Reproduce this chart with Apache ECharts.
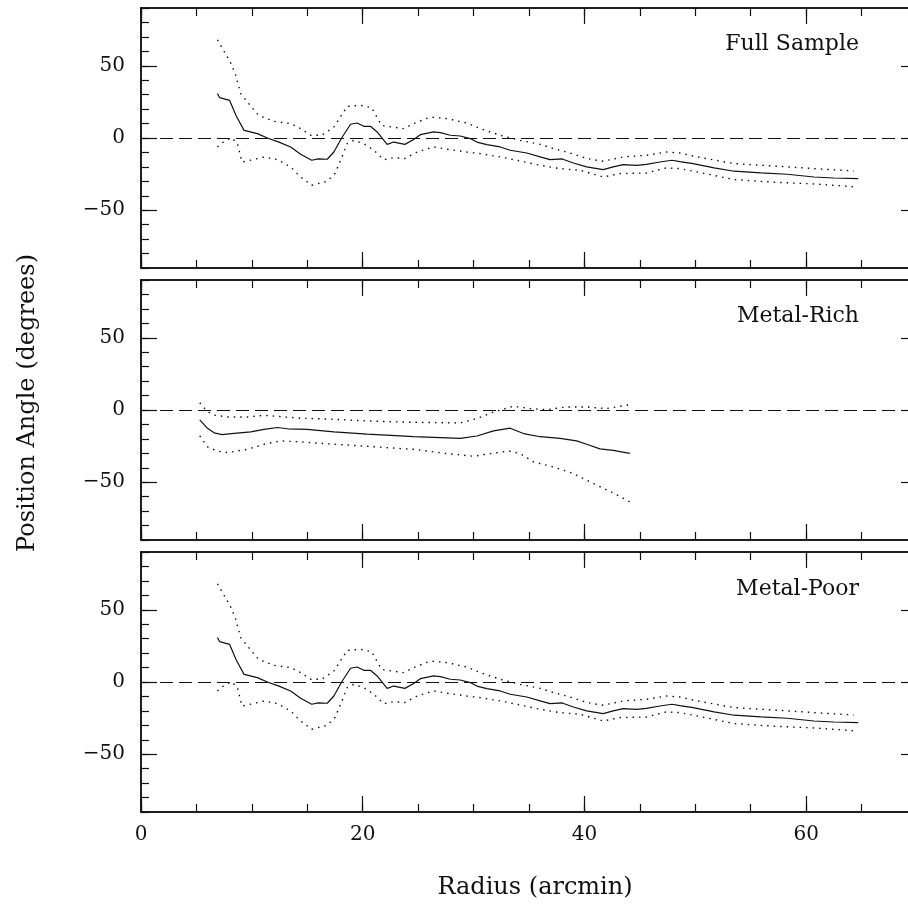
<!DOCTYPE html>
<html>
<head>
<meta charset="utf-8">
<script src="https://cdn.jsdelivr.net/npm/echarts@6/dist/echarts.min.js"></script>
<style>
html,body{margin:0;padding:0;background:#fff;overflow:hidden;}
#chart{width:908px;height:911px;}
</style>
</head>
<body>
<div id="chart"></div>
<script>
// ---- data: [radius (arcmin), position angle (deg)] ----
const panelTitles = ["Full Sample", "Metal-Rich", "Metal-Poor"];
const xTickLabels = [0, 20, 40, 60];
const yTickLabels = [-50, 0, 50];

const fullPA = [[6.9,30.7],[7.1,27.9],[8.0,26],[8.6,15],[9.3,5.3],[10.5,3],[11.4,0],[12.5,-3],[13.5,-6.2],[14.4,-11.3],[15.4,-15.4],[16.0,-14.5],[16.8,-14.7],[17.4,-9.7],[18.1,0],[18.9,9.5],[19.5,10.4],[20.1,8.1],[20.7,8.1],[21.3,4.2],[22.2,-4.4],[22.8,-2.8],[23.8,-4.4],[24.6,-1.1],[25.2,2.3],[26.4,4.2],[27.0,3.7],[27.9,1.9],[28.8,1.4],[29.7,-0.4],[30.3,-2.8],[31.2,-4.6],[32.4,-6.2],[33.3,-8.5],[34.8,-10.4],[36.0,-13.1],[36.9,-15],[38.0,-14.5],[39.0,-17.3],[40.2,-20],[41.7,-21.9],[42.6,-20],[43.5,-18.4],[44.7,-18.9],[45.6,-18.2],[46.8,-16.6],[47.9,-15.4],[48.6,-16.3],[49.8,-17.7],[51.7,-20.7],[53.5,-23],[55.9,-24.2],[58.3,-25.1],[60.7,-27],[62.5,-27.7],[64.7,-28.1]];
const fullHi = [[6.9,68],[7.45,60.6],[8.05,52.6],[8.5,44.5],[9.0,30.7],[9.6,24.9],[10.6,15.7],[12.0,11.5],[13.5,10],[14.4,6.5],[15.3,1.9],[16.3,1.9],[17.4,7.6],[18.6,21.9],[19.8,22.6],[20.8,21],[21.7,8.8],[22.2,8.1],[23.7,6.5],[24.6,10],[26.1,14.5],[27.6,13.4],[29.4,10.4],[30.6,6.5],[32.4,1.9],[34.2,-1.6],[36.0,-4.4],[37.2,-7.3],[38.7,-10.4],[40.2,-14.2],[41.7,-16.1],[43.5,-13.1],[45.6,-12],[47.4,-9.7],[48.6,-10.4],[50.5,-13.6],[53.5,-17.7],[57.1,-19.4],[60.7,-21.2],[64.3,-22.8]];
const fullLo = [[6.9,-6.2],[7.6,-1.6],[8.2,0],[8.7,-3.9],[9.1,-16.6],[9.6,-15.9],[11.1,-13.1],[12.3,-15],[13.5,-20],[14.4,-27],[15.4,-32.7],[16.8,-29.9],[17.5,-24.6],[18.0,-15.4],[18.6,-3.9],[19.2,-1.6],[20.1,-3.9],[21.0,-8.5],[21.9,-15],[22.8,-13.6],[23.8,-14.2],[24.9,-9.7],[26.4,-6.2],[27.6,-7.8],[29.4,-9.7],[30.6,-10.8],[32.4,-13.1],[34.2,-15.9],[36.0,-18.9],[37.8,-21.2],[39.6,-22.3],[41.7,-27],[43.2,-24.6],[45.6,-24.2],[47.4,-20.7],[48.6,-21.2],[50.5,-24],[53.5,-28.8],[57.1,-30.6],[60.7,-31.8],[64.6,-33.9]];

const richPA = [[5.3,-6.9],[6.0,-12.7],[6.6,-15.8],[7.3,-17.1],[8.4,-16.2],[9.9,-15.1],[11.1,-13.4],[12.3,-12.1],[13.2,-13],[15.0,-13.4],[17.4,-15.1],[20.4,-16.7],[23.4,-17.9],[24.6,-18.5],[28.8,-19.7],[30.3,-18],[31.8,-14.5],[33.3,-12.6],[34.5,-16.3],[36.0,-18.5],[37.8,-19.7],[39.3,-21.4],[40.2,-23.7],[41.4,-26.9],[42.6,-27.9],[44.1,-30]];
const richHi = [[5.3,5],[6.0,-1.2],[6.7,-3.7],[7.8,-4.8],[9.6,-4.8],[11.1,-3.7],[12.3,-4.4],[14.4,-5.7],[17.4,-6.4],[20.4,-7.6],[23.4,-8.3],[24.6,-8.5],[28.8,-9],[30.3,-5.9],[31.8,-1.4],[33.6,2.6],[35.1,1],[36.6,0.2],[38.4,2.1],[40.2,2.1],[42.0,1],[44.1,3.7]];
const richLo = [[5.3,-17.9],[6.0,-25.5],[6.9,-28.5],[7.8,-29.5],[9.6,-27.2],[11.1,-23.7],[12.6,-21.4],[14.4,-22.1],[17.4,-23.7],[20.4,-25.1],[23.4,-26.7],[24.6,-27.2],[27.6,-30.2],[30.0,-32],[31.5,-30.2],[33.2,-28.4],[34.2,-30.2],[35.4,-35.9],[37.2,-39.4],[39.0,-44],[40.8,-50.9],[42.6,-57.4],[44.1,-63.6]];

const poorPA = [[6.9,30.7],[7.1,27.9],[8.0,26],[8.6,15],[9.3,5.3],[10.5,3],[11.4,0],[12.5,-3],[13.5,-6.2],[14.4,-11.3],[15.4,-15.4],[16.0,-14.5],[16.8,-14.7],[17.4,-9.7],[18.1,0],[18.9,9.5],[19.5,10.4],[20.1,8.1],[20.7,8.1],[21.3,4.2],[22.2,-4.4],[22.8,-2.8],[23.8,-4.4],[24.6,-1.1],[25.2,2.3],[26.4,4.2],[27.0,3.7],[27.9,1.9],[28.8,1.4],[29.7,-0.4],[30.3,-2.8],[31.2,-4.6],[32.4,-6.2],[33.3,-8.5],[34.8,-10.4],[36.0,-13.1],[36.9,-15],[38.0,-14.5],[39.0,-17.3],[40.2,-20],[41.7,-21.9],[42.6,-20],[43.5,-18.4],[44.7,-18.9],[45.6,-18.2],[46.8,-16.6],[47.9,-15.4],[48.6,-16.3],[49.8,-17.7],[51.7,-20.7],[53.5,-23],[55.9,-24.2],[58.3,-25.1],[60.7,-27],[62.5,-27.7],[64.7,-28.1]];
const poorHi = [[6.9,68],[7.45,60.6],[8.05,52.6],[8.5,44.5],[9.0,30.7],[9.6,24.9],[10.6,15.7],[12.0,11.5],[13.5,10],[14.4,6.5],[15.3,1.9],[16.3,1.9],[17.4,7.6],[18.6,21.9],[19.8,22.6],[20.8,21],[21.7,8.8],[22.2,8.1],[23.7,6.5],[24.6,10],[26.1,14.5],[27.6,13.4],[29.4,10.4],[30.6,6.5],[32.4,1.9],[34.2,-1.6],[36.0,-4.4],[37.2,-7.3],[38.7,-10.4],[40.2,-14.2],[41.7,-16.1],[43.5,-13.1],[45.6,-12],[47.4,-9.7],[48.6,-10.4],[50.5,-13.6],[53.5,-17.7],[57.1,-19.4],[60.7,-21.2],[64.3,-22.8]];
const poorLo = [[6.9,-6.2],[7.6,-1.6],[8.2,0],[8.7,-3.9],[9.1,-16.6],[9.6,-15.9],[11.1,-13.1],[12.3,-15],[13.5,-20],[14.4,-27],[15.4,-32.7],[16.8,-29.9],[17.5,-24.6],[18.0,-15.4],[18.6,-3.9],[19.2,-1.6],[20.1,-3.9],[21.0,-8.5],[21.9,-15],[22.8,-13.6],[23.8,-14.2],[24.9,-9.7],[26.4,-6.2],[27.6,-7.8],[29.4,-9.7],[30.6,-10.8],[32.4,-13.1],[34.2,-15.9],[36.0,-18.9],[37.8,-21.2],[39.6,-22.3],[41.7,-27],[43.2,-24.6],[45.6,-24.2],[47.4,-20.7],[48.6,-21.2],[50.5,-24],[53.5,-28.8],[57.1,-30.6],[60.7,-31.8],[64.6,-33.9]];

const panels = [
  {pa: fullPA, hi: fullHi, lo: fullLo},
  {pa: richPA, hi: richHi, lo: richLo},
  {pa: poorPA, hi: poorHi, lo: poorLo}
];

// ---- layout ----
const FONT = '"DejaVu Serif", "Liberation Serif", serif';
const INK = '#111';
const gridTops = [8, 280, 552];
const gridH = 260;
const gridLeft = 141;
const gridW = 776;

const grids = [], xAxes = [], yAxes = [], series = [];
const frameLine = {show: true, onZero: false, lineStyle: {color: INK, width: 1.5}};
const tickStyle = {color: INK, width: 1.2};

gridTops.forEach((top, i) => {
  grids.push({left: gridLeft, width: gridW, top: top, height: gridH, containLabel: false, outerBoundsMode: 'none'});
  const isBottom = i === gridTops.length - 1;
  const xBase = {type: 'value', gridIndex: i, min: 0, max: 70, splitLine: {show: false}, axisLine: frameLine};
  xAxes.push(Object.assign({}, xBase, {
    position: 'bottom', interval: 5,
    axisTick: {show: true, inside: true, length: 8, lineStyle: tickStyle},
    axisLabel: {show: isBottom, margin: 13, fontFamily: FONT, fontSize: 20, color: INK,
      formatter: v => (xTickLabels.indexOf(v) >= 0 ? String(v) : '')}
  }));
  xAxes.push(Object.assign({}, xBase, {
    position: 'bottom', interval: 20,
    axisTick: {show: true, inside: true, length: 16, lineStyle: tickStyle},
    axisLabel: {show: false}
  }));
  xAxes.push(Object.assign({}, xBase, {
    position: 'top', interval: 5,
    axisTick: {show: true, inside: true, length: 8, lineStyle: tickStyle},
    axisLabel: {show: false}
  }));
  xAxes.push(Object.assign({}, xBase, {
    position: 'top', interval: 20,
    axisTick: {show: true, inside: true, length: 16, lineStyle: tickStyle},
    axisLabel: {show: false}
  }));

  const yBase = {type: 'value', gridIndex: i, min: -90, max: 90, interval: 10, splitLine: {show: false}, axisLine: frameLine};
  yAxes.push(Object.assign({}, yBase, {
    position: 'left',
    axisTick: {show: true, inside: true, length: 8, lineStyle: tickStyle},
    axisLabel: {show: false}
  }));
  yAxes.push(Object.assign({}, yBase, {
    position: 'left',
    axisTick: {show: true, inside: true, length: 16, customValues: yTickLabels, lineStyle: tickStyle},
    axisLabel: {show: true, customValues: yTickLabels, margin: 16, fontFamily: FONT, fontSize: 20, color: INK,
      formatter: v => String(v).replace('-', '\u2212')}
  }));
  yAxes.push(Object.assign({}, yBase, {
    position: 'right',
    axisTick: {show: true, inside: true, length: 8, lineStyle: tickStyle},
    axisLabel: {show: false}
  }));
  yAxes.push(Object.assign({}, yBase, {
    position: 'right',
    axisTick: {show: true, inside: true, length: 16, customValues: yTickLabels, lineStyle: tickStyle},
    axisLabel: {show: false}
  }));

  const xi = i * 4, yi = i * 4;
  const p = panels[i];
  series.push({
    type: 'line', xAxisIndex: xi, yAxisIndex: yi, data: p.pa, showSymbol: false, symbol: 'none',
    lineStyle: {color: INK, width: 1.2}, z: 5,
    markLine: {silent: true, symbol: 'none', label: {show: false},
      lineStyle: {color: INK, width: 1.2, type: [13, 6]}, data: [{yAxis: 0}]}
  });
  series.push({
    type: 'line', xAxisIndex: xi, yAxisIndex: yi, data: p.hi, showSymbol: false, symbol: 'none',
    lineStyle: {color: INK, width: 1.4, type: [1.5, 5]}
  });
  series.push({
    type: 'line', xAxisIndex: xi, yAxisIndex: yi, data: p.lo, showSymbol: false, symbol: 'none',
    lineStyle: {color: INK, width: 1.4, type: [1.5, 5]}
  });
});

const titleY = [33, 305, 578];
const graphics = panelTitles.map((t, i) => ({
  type: 'text', right: 49, top: titleY[i],
  style: {text: t, font: '22px ' + FONT, fill: INK}
}));
graphics.push({
  type: 'text', x: 535, y: 888,
  style: {text: 'Radius (arcmin)', font: '24px ' + FONT, fill: INK, textAlign: 'center', textVerticalAlign: 'middle'}
});
graphics.push({
  type: 'text', x: 28, y: 403, rotation: Math.PI / 2,
  style: {text: 'Position Angle (degrees)', font: '24px ' + FONT, fill: INK, textAlign: 'center', textVerticalAlign: 'middle'}
});

const chart = echarts.init(document.getElementById('chart'), null, {renderer: 'canvas'});
chart.setOption({
  animation: false,
  backgroundColor: '#fff',
  grid: grids,
  xAxis: xAxes,
  yAxis: yAxes,
  series: series,
  graphic: graphics
});
</script>
</body>
</html>
